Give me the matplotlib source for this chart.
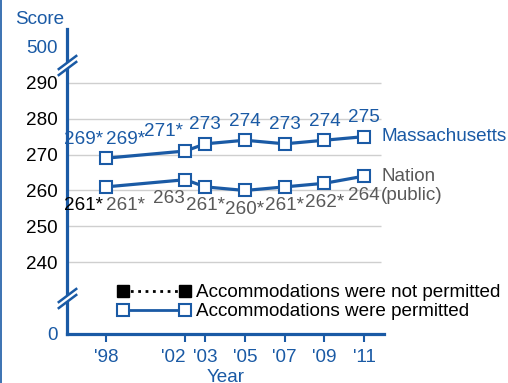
import matplotlib
matplotlib.use("Agg")
import matplotlib.pyplot as plt
from matplotlib.lines import Line2D

# Data
years = [1998, 2002, 2003, 2005, 2007, 2009, 2011]
year_labels = ["'98", "'02", "'03", "'05", "'07", "'09", "'11"]
ma_scores = [269, 271, 273, 274, 273, 274, 275]
ma_signif = [True, True, False, False, False, False, False]
nation_scores = [261, 263, 261, 260, 261, 262, 264]
nation_signif = [True, False, True, True, True, True, False]
# 1998 results when accommodations were not permitted
np_years = [1998]
ma_np_scores = [269]
nation_np_scores = [261]

score_ticks = [220, 240, 250, 260, 270, 280, 290, 300]
score_tick_labels = ["0", "240", "250", "260", "270", "280", "290", "500"]
legend_labels = ["Accommodations were not permitted", "Accommodations were permitted"]

BLUE = "#1a5aa5"
GRAY = "#595959"
FS = 13.6

plt.rcParams["font.family"] = ["Liberation Sans", "DejaVu Sans"]

fig = plt.figure(figsize=(5.08, 3.83), dpi=100)
ax = fig.add_axes([67 / 508, 49 / 383, 317 / 508, 305 / 383])
ax.set_xlim(1996.04, 2012.0)
ax.set_ylim(220, 305)

# gridlines only on the 240-290 band
ax.hlines(score_ticks[1:-1], 1996.04, 2011.85, color="#cfcfcf", lw=1, zorder=0)

# not-permitted points (hidden under the permitted markers)
ax.plot(np_years, ma_np_scores, ls=":", color="black", marker="s", ms=7,
        mfc="black", mec="black", zorder=2)
ax.plot(np_years, nation_np_scores, ls=":", color="black", marker="s", ms=7,
        mfc="black", mec="black", zorder=2)

for scores in (ma_scores, nation_scores):
    ax.plot(years, scores, color=BLUE, lw=2.3, marker="s", ms=9, mfc="white",
            mec=BLUE, mew=1.5, zorder=3)

# value labels
ma_dx = [20, -22, 0, 0, 0, 0, 0]
for x, y, s, dx in zip(years, ma_scores, ma_signif, ma_dx):
    ax.annotate(f"{y}*" if s else f"{y}", (x, y), xytext=(dx, 19),
                textcoords="offset pixels", ha="center", va="center",
                color=BLUE, fontsize=FS)
for x, y in zip(np_years, ma_np_scores):
    ax.annotate(f"{y}*", (x, y), xytext=(-22, 19), textcoords="offset pixels",
                ha="center", va="center", color=BLUE, fontsize=FS)

nat_dx = [20, -16, 0, 0, 0, 0, 0]
for x, y, s, dx in zip(years, nation_scores, nation_signif, nat_dx):
    ax.annotate(f"{y}*" if s else f"{y}", (x, y), xytext=(dx, -19),
                textcoords="offset pixels", ha="center", va="center",
                color=GRAY, fontsize=FS)
for x, y in zip(np_years, nation_np_scores):
    ax.annotate(f"{y}*", (x, y), xytext=(-22, -19), textcoords="offset pixels",
                ha="center", va="center", color="black", fontsize=FS)

# series names
ax.annotate("Massachusetts", (years[-1], ma_scores[-1]), xytext=(17, 0),
            textcoords="offset pixels", ha="left", va="center", color=BLUE,
            fontsize=FS, annotation_clip=False)
ax.annotate("Nation\n(public)", (years[-1], nation_scores[-1]), xytext=(17, 8),
            textcoords="offset pixels", ha="left", va="top", color=GRAY,
            fontsize=FS, linespacing=1.15, annotation_clip=False)

# axes styling
for side in ("top", "right"):
    ax.spines[side].set_visible(False)
for side in ("left", "bottom"):
    ax.spines[side].set_color(BLUE)
    ax.spines[side].set_linewidth(2.3)
ax.spines["bottom"].set_capstyle("projecting")

ax.set_yticks(score_ticks)
ax.set_yticklabels(score_tick_labels, fontsize=FS)
ax.tick_params(axis="y", length=0, pad=7)
for lab in ax.get_yticklabels():
    lab.set_color(BLUE if lab.get_text() in ("0", "500") else "black")

ax.set_xticks(years)
ax.set_xticklabels(year_labels, fontsize=FS, color=BLUE)
ax.tick_params(axis="x", length=6, width=1.5, color=BLUE, pad=5)
# '02 label sits left of its tick so it clears '03
ax.get_xticklabels()[1].set_horizontalalignment("right")
ax.set_xlabel("Year", color=BLUE, fontsize=FS, labelpad=2)

# axis break marks
ytrans = ax.get_yaxis_transform()
slash = [(-1, -0.75), (1, 0.75)]
for yb in (295, 230):
    ax.plot([0], [yb], marker=slash, ms=14, mew=4, color="white",
            transform=ytrans, clip_on=False, zorder=5)
    for d in (-0.9, 0.9):
        ax.plot([0], [yb + d], marker=slash, ms=14, mew=1.8, color=BLUE,
                transform=ytrans, clip_on=False, zorder=6)

fig.text(40 / 508, 1 - 19 / 383, "Score", color=BLUE, fontsize=FS,
         ha="center", va="center")

# legend
handles = [
    Line2D([], [], color="black", ls=":", lw=2, marker="s", ms=9,
           mfc="black", mec="black"),
    Line2D([], [], color=BLUE, lw=2, marker="s", ms=9, mfc="white",
           mec=BLUE, mew=1.5),
]
fig.legend(handles, legend_labels, loc="upper left",
           bbox_to_anchor=(117 / 508, 1 - 284 / 383), frameon=False,
           fontsize=FS, numpoints=2, handlelength=3.9, handletextpad=0.3,
           labelspacing=0.1, borderpad=0, borderaxespad=0)

# frame line at the left edge of the original panel
fig.add_artist(Line2D([0.002, 0.002], [0, 1], color=BLUE, lw=1.2,
                      transform=fig.transFigure))

fig.savefig("out.png", dpi=100)
